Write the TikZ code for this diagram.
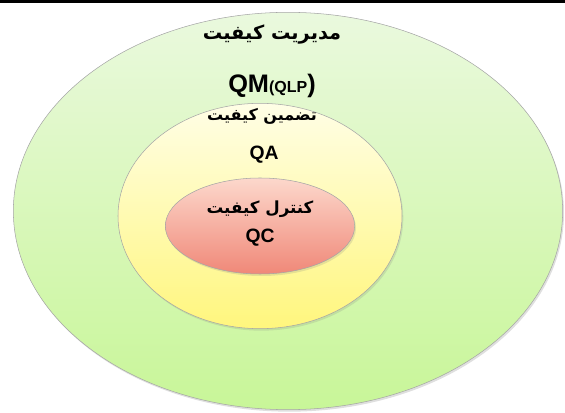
\documentclass[tikz,border=0pt]{standalone}
\usepackage{fontspec}
\setmainfont{Liberation Sans}
\newfontfamily\arabicfont[Script=Arabic]{DejaVu Sans}
\TeXXeTstate=1
\usetikzlibrary{positioning, shapes.geometric, calc, shadows}

\begin{document}
\begin{tikzpicture}[x=0.75pt, y=-0.75pt]
  \tikzset{
    ring/.style={ellipse, draw=gray!70, line width=0.4pt, inner sep=0pt},
    fatext/.style={font=\arabicfont\bfseries\fontsize{14.5}{18}\selectfont},
    entext/.style={font=\bfseries\fontsize{14.5}{16}\selectfont}
  }
  \useasboundingbox (0,0) rectangle (565,413);
  \fill[black] (0,0) rectangle (565,3);

  \node[ring, top color={rgb,255:red,234;green,249;blue,222}, bottom color={rgb,255:red,200;green,246;blue,152},
        drop shadow={opacity=0.25, shadow xshift=1pt, shadow yshift=-1.5pt},
        minimum width=412pt, minimum height=298pt] (outer) at (288,211) {};
  \node[ring, top color={rgb,255:red,255;green,254;blue,230}, bottom color={rgb,255:red,255;green,246;blue,125},
        drop shadow={opacity=0.2, shadow xshift=1pt, shadow yshift=-1.5pt},
        minimum width=213pt, minimum height=169pt] (middle) at (260,216) {};
  \node[ring, top color={rgb,255:red,252;green,216;blue,204}, bottom color={rgb,255:red,240;green,136;blue,120},
        drop shadow={opacity=0.2, shadow xshift=1pt, shadow yshift=-1.5pt},
        minimum width=142pt, minimum height=72pt] (inner) at (260,226) {};

  \node[fatext] (qmfa) at (272,35) {\beginR مدیریت کیفیت\endR};
  \node[font=\bfseries] (qm) at (272,86)
    {{\fontsize{19}{20}\selectfont QM}{\fontsize{12}{14}\selectfont(QLP}{\fontsize{19}{20}\selectfont)}};
  \node[fatext, font=\arabicfont\bfseries\fontsize{12}{15}\selectfont] (qafa) at (262,116) {\beginR تضمین کیفیت\endR};
  \node[entext] (qa) at (264,155) {QA};
  \node[fatext, font=\arabicfont\bfseries\fontsize{12.5}{15}\selectfont] (qcfa) at (260,209) {\beginR کنترل کیفیت\endR};
  \node[entext] (qc) at (260,238) {QC};
\end{tikzpicture}
\end{document}
